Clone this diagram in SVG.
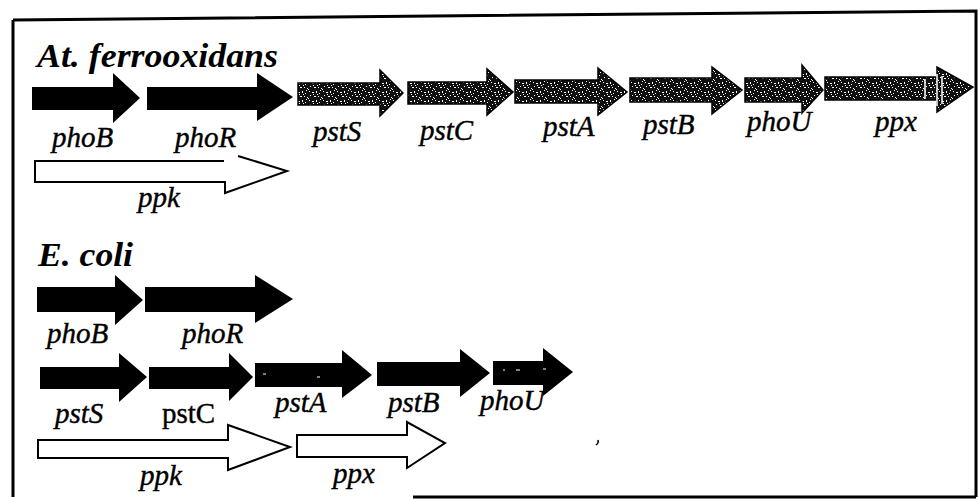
<svg xmlns="http://www.w3.org/2000/svg" width="978" height="500" viewBox="0 0 978 500">
<defs>
<pattern id="noise" patternUnits="userSpaceOnUse" width="14" height="9">
<rect width="14" height="9" fill="#111"/>
<g fill="#fff">
<rect x="1" y="1" width="1" height="1"/><rect x="4" y="2" width="2" height="1"/><rect x="8" y="1" width="1" height="2"/>
<rect x="11" y="3" width="1" height="1"/><rect x="2" y="5" width="1" height="1"/><rect x="6" y="6" width="2" height="1"/>
<rect x="10" y="6" width="1" height="1"/><rect x="13" y="7" width="1" height="1"/><rect x="5" y="4" width="1" height="1"/>
<rect x="0" y="8" width="1" height="1"/><rect x="9" y="4" width="1" height="1"/><rect x="12" y="0" width="1" height="1"/>
</g>
</pattern>
<style>
.solid{fill:#000;stroke:none}
.gray{fill:url(#noise);stroke:#000;stroke-width:1.5;stroke-linejoin:miter}
.open{fill:#fff;stroke:#000;stroke-width:2}
.lbl{font-family:"Liberation Serif","Times New Roman",serif;font-style:italic;font-size:29px;fill:#000;stroke:#000;stroke-width:0.4}
.up{font-style:normal}
.title{font-family:"Liberation Serif","Times New Roman",serif;font-style:italic;font-weight:bold;font-size:34px;fill:#000}
.frame{fill:none;stroke:#000;stroke-width:3}
</style>
</defs>
<rect width="978" height="500" fill="#fff"/>
<path class="frame" d="M13,20 L976,11 V497 M413,497 H976 M13,20 V497"/>
<g id="connectors"/>
<g id="title-at"><text class="title" x="37" y="67" textLength="241" lengthAdjust="spacingAndGlyphs">At. ferrooxidans</text></g>
<g id="at-phoB"><polygon class="solid" points="32,87 113,87 113,73 140,98 113,123 113,110 32,110"/><text class="lbl" x="52" y="147">phoB</text></g>
<g id="at-phoR"><polygon class="solid" points="147,87 257,87 257,73 293,97 257,121 257,110 147,110"/><text class="lbl" x="175" y="147">phoR</text></g>
<g id="at-pstS"><polygon class="gray" points="298,83 380,83 380,70 403,93 380,116 380,105 298,105"/><text class="lbl" x="313" y="141">pstS</text></g>
<g id="at-pstC"><polygon class="gray" points="408,82 487,82 487,69 513,92 487,115 487,104 408,104"/><text class="lbl" x="420" y="140">pstC</text></g>
<g id="at-pstA"><polygon class="gray" points="515,80 598,80 598,68 627,92 598,115 598,103 515,103"/><text class="lbl" x="543" y="136">pstA</text></g>
<g id="at-pstB"><polygon class="gray" points="630,78 712,78 712,67 742,90 712,114 712,102 630,102"/><text class="lbl" x="643" y="134">pstB</text></g>
<g id="at-phoU"><polygon class="gray" points="745,78 802,78 802,65 823,90 802,113 802,102 745,102"/><text class="lbl" x="747" y="131">phoU</text></g>
<g id="at-ppx"><polygon class="gray" points="825,77 937,77 937,67 973,87 937,112 937,100 825,100"/>
<path d="M925,79 V99 M937,74 V106 M942,76 V104" stroke="#fff" stroke-width="1.5"/>
<text class="lbl" x="875" y="131">ppx</text></g>
<g id="at-ppk"><path class="open" d="M224,161 H35 V182 H225 V193 L287,171 L238,156"/><text class="lbl" x="138" y="207">ppk</text></g>

<g id="title-ecoli"><text class="title" x="38" y="266" textLength="95" lengthAdjust="spacingAndGlyphs">E. coli</text></g>
<g id="ec-phoB"><polygon class="solid" points="37,287 115,287 115,275 143,300 115,325 115,312 37,312"/><text class="lbl" x="47" y="343">phoB</text></g>
<g id="ec-phoR"><polygon class="solid" points="145,287 255,287 255,275 293,299 255,323 255,312 145,312"/><text class="lbl" x="182" y="343">phoR</text></g>
<g id="ec-pstS"><polygon class="solid" points="40,367 119,367 119,353 147,377 119,402 119,389 40,389"/><text class="lbl" x="55" y="423">pstS</text></g>
<g id="ec-pstC"><polygon class="solid" points="149,367 229,367 229,353 253,377 229,401 229,389 149,389"/><text class="lbl up" x="162" y="423">pstC</text></g>
<g id="ec-pstA"><polygon class="solid" points="255,363 342,363 342,350 372,375 342,398 342,387 255,387"/>
<path d="M263,374 h3 M317,377 h3" stroke="#fff" stroke-width="1"/><text class="lbl" x="275" y="412">pstA</text></g>
<g id="ec-pstB"><polygon class="solid" points="377,362 460,362 460,349 490,373 460,397 460,386 377,386"/><text class="lbl" x="388" y="412">pstB</text></g>
<g id="ec-phoU"><polygon class="solid" points="493,361 543,361 543,348 573,372 543,396 543,385 493,385"/>
<path d="M503,370 h2 M516,370 h4 M543,369 h3" stroke="#fff" stroke-width="1"/><text class="lbl" x="480" y="410">phoU</text></g>
<g id="ec-ppk"><polygon class="open" points="38,440 228,440 228,425 290,447 228,470 228,458 38,458"/><text class="lbl" x="140" y="485">ppk</text></g>
<g id="ec-ppx"><polygon class="open" points="297,435 407,435 407,422 445,443 407,468 407,457 297,457"/><text class="lbl" x="333" y="483">ppx</text></g>
<path d="M598,440 q1,3 -2,5" stroke="#000" stroke-width="1.5" fill="none"/>
</svg>
